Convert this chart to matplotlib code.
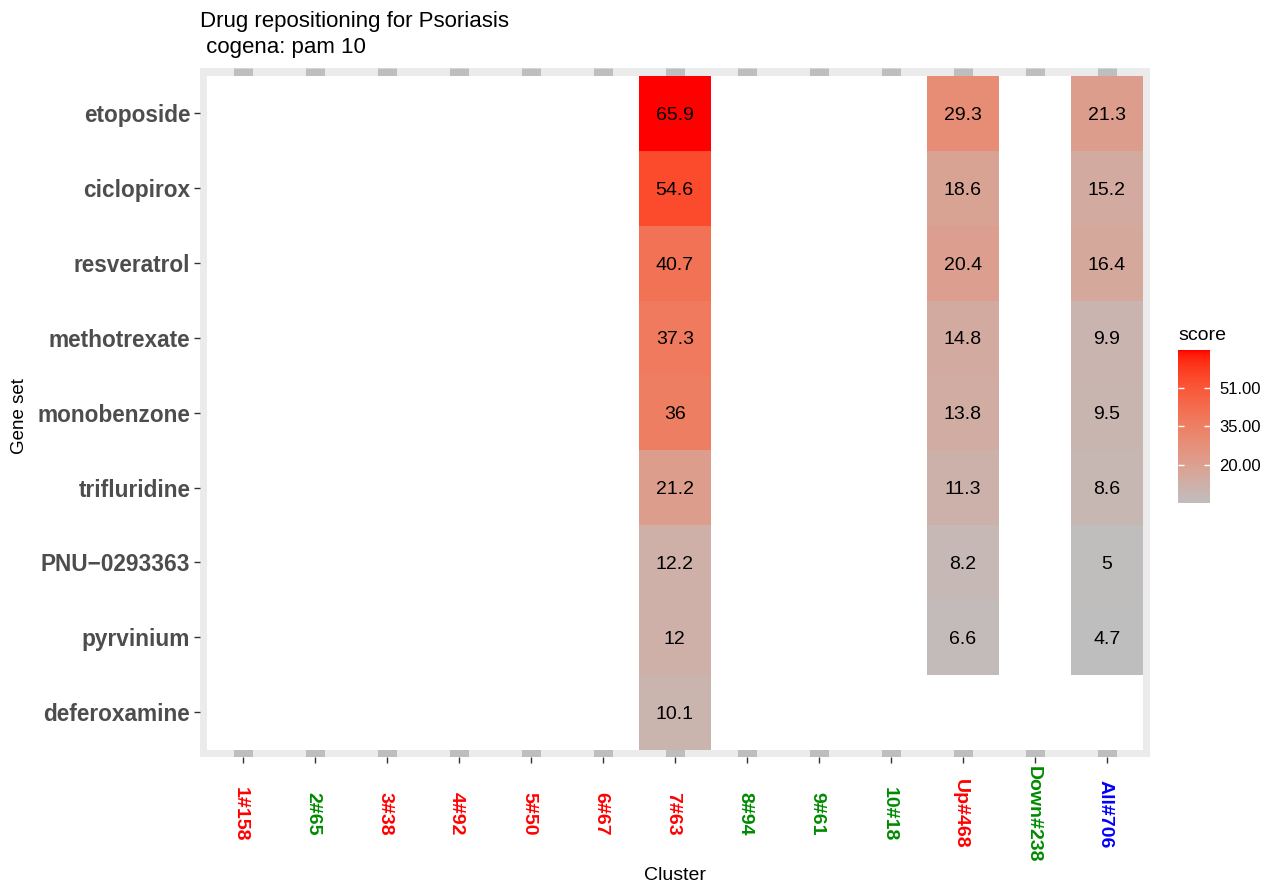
# Heatmap de reposicionamento de drogas (cogena: pam 10)

import numpy as np
import matplotlib
matplotlib.use('Agg')
import matplotlib.pyplot as plt
from matplotlib.colors import ListedColormap, Normalize
from matplotlib.cm import ScalarMappable

plt.rcParams['font.family'] = ['Liberation Sans', 'DejaVu Sans']

# dados
clusters = ['1#158', '2#65', '3#38', '4#92', '5#50', '6#67', '7#63',
            '8#94', '9#61', '10#18', 'Up#468', 'Down#238', 'All#706']
cluster_colors = ['red', 'green4', 'red', 'red', 'red', 'red', 'red',
                  'green4', 'green4', 'green4', 'red', 'green4', 'blue']
drugs = ['etoposide', 'ciclopirox', 'resveratrol', 'methotrexate', 'monobenzone',
         'trifluridine', 'PNU\u22120293363', 'pyrvinium', 'deferoxamine']
score_7 = [65.9, 54.6, 40.7, 37.3, 36, 21.2, 12.2, 12, 10.1]
score_up = [29.3, 18.6, 20.4, 14.8, 13.8, 11.3, 8.2, 6.6, np.nan]
score_all = [21.3, 15.2, 16.4, 9.9, 9.5, 8.6, 5, 4.7, np.nan]
legend_ticks = [20.0, 35.3, 50.6]
legend_labels = ['20.00', '35.00', '51.00']

color_map = {'red': '#FF0000', 'green4': '#008B00', 'blue': '#0000FF'}

# matriz com NaN nos clusters sem valor
scores = np.full((len(drugs), len(clusters)), np.nan)
scores[:, clusters.index('7#63')] = score_7
scores[:, clusters.index('Up#468')] = score_up
scores[:, clusters.index('All#706')] = score_all


# gradiente grey -> red interpolado em CIELAB (como no ggplot)
def to_lab(rgb):
    c = np.array(rgb, dtype=float)
    c = np.where(c > 0.04045, ((c + 0.055) / 1.055) ** 2.4, c / 12.92)
    m = np.array([[0.4124, 0.3576, 0.1805],
                  [0.2126, 0.7152, 0.0722],
                  [0.0193, 0.1192, 0.9505]])
    xyz = m @ c / np.array([0.95047, 1.0, 1.08883])
    f = np.where(xyz > 0.008856, np.cbrt(xyz), 7.787 * xyz + 16 / 116)
    return np.array([116 * f[1] - 16, 500 * (f[0] - f[1]), 200 * (f[1] - f[2])])


def from_lab(lab):
    fy = (lab[0] + 16) / 116
    fx = fy + lab[1] / 500
    fz = fy - lab[2] / 200
    f = np.array([fx, fy, fz])
    xyz = np.where(f ** 3 > 0.008856, f ** 3, (f - 16 / 116) / 7.787)
    xyz = xyz * np.array([0.95047, 1.0, 1.08883])
    minv = np.array([[3.2406, -1.5372, -0.4986],
                     [-0.9689, 1.8758, 0.0415],
                     [0.0557, -0.2040, 1.0570]])
    c = minv @ xyz
    c = np.where(c > 0.0031308, 1.055 * np.abs(c) ** (1 / 2.4) - 0.055, 12.92 * c)
    return np.clip(c, 0, 1)


lab_lo = to_lab([190 / 255, 190 / 255, 190 / 255])
lab_hi = to_lab([1.0, 0.0, 0.0])
grad = [from_lab(lab_lo + t * (lab_hi - lab_lo)) for t in np.linspace(0, 1, 256)]
cmap = ListedColormap(grad).with_extremes(bad='white')
norm = Normalize(vmin=np.nanmin(scores), vmax=np.nanmax(scores))

fig = plt.figure(figsize=(12.62, 8.84), dpi=100)
ax = fig.add_axes([200 / 1262, 126.7 / 884, 949.5 / 1262, 689 / 884])
ax.set_facecolor('#EBEBEB')
for s in ax.spines.values():
    s.set_visible(False)

nx, ny = len(clusters), len(drugs)
mx, my = 0.093, 0.103
ax.set_xlim(-0.5 - mx, nx - 0.5 + mx)
ax.set_ylim(ny - 0.5 + my, -0.5 - my)

# linhas de grade cinza (so aparecem nas margens)
ax.vlines(np.arange(nx), -0.5 - my, ny - 0.5 + my, colors='#BEBEBE', lw=13.7, zorder=0.5)

ax.pcolormesh(np.arange(nx + 1) - 0.5, np.arange(ny + 1) - 0.5,
              np.ma.masked_invalid(scores), cmap=cmap, norm=norm,
              linewidth=0, antialiased=False, zorder=1)

for i in range(ny):
    for j in range(nx):
        v = scores[i, j]
        if not np.isnan(v):
            ax.text(j, i, f'{v:g}', ha='center', va='center_baseline', fontsize=14, zorder=2)

ax.set_yticks(range(ny))
ax.set_yticklabels(drugs, fontsize=16.3, fontweight='bold', color='#4D4D4D')
ax.set_xticks(range(nx))
ax.set_xticklabels(clusters, rotation=-90, fontsize=14, fontweight='bold',
                   va='center_baseline', ha='center', rotation_mode='anchor')
for lbl, c in zip(ax.get_xticklabels(), cluster_colors):
    lbl.set_color(color_map[c])
ax.tick_params(axis='both', length=4, width=1, color='#333333')
ax.tick_params(axis='y', pad=3)
ax.tick_params(axis='x', pad=36.8)

fig.text(675 / 1262, 1 - 876 / 884, 'Cluster', ha='center', va='center', fontsize=14)
fig.text(19 / 1262, 1 - 416 / 884, 'Gene set', ha='center', va='center',
         rotation=90, fontsize=13.5)
fig.text(200 / 1262, 1 - 11 / 884, 'Drug repositioning for Psoriasis\n cogena: pam 10',
         ha='left', va='top', fontsize=16, linespacing=1.3)

# legenda de cores
cax = fig.add_axes([1178 / 1262, (884 - 503) / 884, 32 / 1262, 153 / 884])
cb = fig.colorbar(ScalarMappable(norm=norm, cmap=cmap), cax=cax)
cb.outline.set_visible(False)
cb.set_ticks(legend_ticks)
cb.set_ticklabels(legend_labels)
cax.tick_params(length=0, pad=6.5, labelsize=12)
cax.hlines(legend_ticks, 0, 0.2, colors='white', lw=1)
cax.hlines(legend_ticks, 0.8, 1, colors='white', lw=1)
fig.text(1178 / 1262, 1 - 340 / 884, 'score', ha='left', va='baseline', fontsize=14)

fig.savefig('out.png', dpi=100)
